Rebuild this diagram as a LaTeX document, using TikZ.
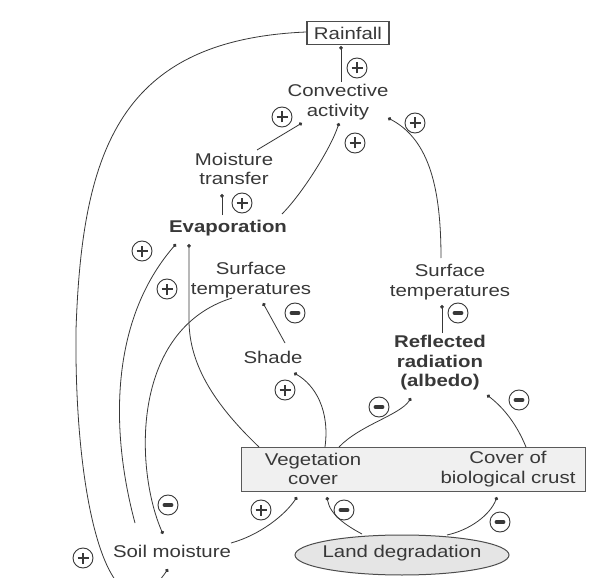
\documentclass[tikz,border=0pt]{standalone}
\usepackage{fontspec}
\setmainfont{Liberation Sans}[FakeStretch=1.2]
\usetikzlibrary{calc,arrows.meta,shapes.geometric}
\definecolor{ink}{gray}{0.22}
\begin{document}
\begin{tikzpicture}[x=1pt,y=-1pt,
  txt/.style={font=\fontsize{17}{19.5}\selectfont, text=ink, inner sep=0pt, align=center},
  btxt/.style={txt, font=\fontsize{17}{19.5}\selectfont\bfseries},
  conn/.style={draw=ink, line width=0.8pt, -{Circle[length=3.6pt]}},
  sgn/.style={circle, draw=ink, line width=0.9pt, minimum size=20pt, inner sep=0pt},
  plussign/.style={sgn, path picture={
    \draw[ink, line width=1.3pt] ([xshift=-5.5pt]path picture bounding box.center) -- ([xshift=5.5pt]path picture bounding box.center);
    \draw[ink, line width=1.3pt] ([yshift=-5.5pt]path picture bounding box.center) -- ([yshift=5.5pt]path picture bounding box.center);}},
  minussign/.style={sgn, path picture={
    \draw[ink, line width=3.8pt, line cap=round] ([xshift=-3.5pt]path picture bounding box.center) -- ([xshift=3.5pt]path picture bounding box.center);}},
]
\useasboundingbox (0,0) rectangle (606,578);
\clip (0,0) rectangle (606,578);
\fill[white] (0,0) rectangle (606,578);

% boxes and shapes
\node[draw=gray!70!black, fill=gray!12, line width=1pt, minimum width=344pt, minimum height=44pt, inner sep=0pt] (cover) at (413,469) {};
\node[ellipse, draw=gray!60!black, fill=gray!20, line width=1pt, minimum width=214pt, minimum height=40pt, inner sep=0pt] (landshape) at (402,555) {};

% text nodes
\node[txt, draw=gray!60!black, line width=1.1pt, minimum width=82pt, minimum height=23pt] (rain) at (348,33) {Rainfall};
\node[txt] (conv) at (338,102) {Convective\\activity};
\node[txt] (moist) at (234,169) {Moisture\\transfer};
\node[btxt] (evap) at (228,228) {Evaporation};
\node[txt] (stl) at (251,280) {Surface\\temperatures};
\node[txt] (str) at (450,282) {Surface\\temperatures};
\node[txt] (shade) at (273,357) {Shade};
\node[btxt] (refl) at (440,363) {Reflected\\radiation\\(albedo)};
\node[txt] (veg) at (313,469) {Vegetation\\cover};
\node[txt] (crust) at (508,469) {Cover of\\biological crust};
\node[txt] (soil) at (172,551) {Soil moisture};
\node[txt] (land) at (402,553) {Land degradation};

% connectors
\draw[conn] ($(conv)+(3,-20)$) -- ($(rain)+(-7,13)$);
\draw[conn] ($(moist)+(23,-19)$) -- ($(conv)+(-36,21)$);
\draw[conn] ($(evap)+(54,-14)$) .. controls +(20,-20) and +(-8,25) .. ($(conv)+(1,21)$);
\draw[conn] ($(str)+(-9,-24)$) .. controls +(0,-68) and +(42,22) .. ($(conv)+(50,16)$);
\draw[conn] ($(evap)+(-6,-13)$) -- ($(moist)+(-12,25)$);
\draw[conn] ($(rain)+(-42,-1)$) .. controls (120,40) and (82,150) .. (76,330) .. controls (74,510) and (112,650) .. ($(soil)+(-4,18)$);
\draw[conn] ($(soil)+(-37,-28)$) .. controls +(-25,-93) and +(-66,76) .. ($(evap)+(-52,16)$);
\draw[conn] ($(veg)+(-54,-22)$) .. controls +(-44,-42) and +(0,45) .. ($(evap)+(-39,92)$) -- ($(evap)+(-39,16)$);
\draw[conn] ($(stl)+(-19,18)$) .. controls +(-102,32) and +(-28,-64) .. ($(soil)+(-9,-17)$);
\draw[conn] ($(shade)+(12,-14)$) -- ($(stl)+(12,23)$);
\draw[conn] ($(veg)+(12,-22)$) .. controls +(5,-37) and +(21,12) .. ($(shade)+(21,16)$);
\draw[conn] ($(veg)+(26,-22)$) .. controls +(21,-22) and +(-11,17) .. ($(refl)+(-29,35)$);
\draw[conn] ($(crust)+(18,-22)$) .. controls +(-11,-27) and +(13,10) .. ($(refl)+(47,32)$);
\draw[conn] ($(refl)+(2,-30)$) -- ($(str)+(-8,23)$);
\draw[conn] ($(soil)+(59,-8)$) .. controls +(29,-8) and +(-12,18) .. ($(veg)+(-16,28)$);
\draw[conn] ($(land)+(-40,-19)$) .. controls +(-15,-8) and +(3,18) .. ($(veg)+(14,28)$);
\draw[conn] ($(land)+(45,-18)$) .. controls +(23,-5) and +(-7,18) .. ($(crust)+(-11,28)$);

% signs
\node[plussign] (s1) at (357,68) {};
\node[plussign] (s2) at (282,117) {};
\node[plussign] (s3) at (355,143) {};
\node[plussign] (s4) at (415,123) {};
\node[plussign] (s5) at (242,203) {};
\node[plussign] (s6) at (142,251) {};
\node[plussign] (s7) at (167,289) {};
\node[minussign] (s8) at (295,313) {};
\node[minussign] (s9) at (458,313) {};
\node[plussign] (s10) at (285,390) {};
\node[minussign] (s11) at (379,407) {};
\node[minussign] (s12) at (519,400) {};
\node[minussign] (s13) at (168,505) {};
\node[plussign] (s14) at (261,510) {};
\node[minussign] (s15) at (344,510) {};
\node[minussign] (s16) at (500,522) {};
\node[plussign] (s17) at (83,558) {};
\end{tikzpicture}
\end{document}
